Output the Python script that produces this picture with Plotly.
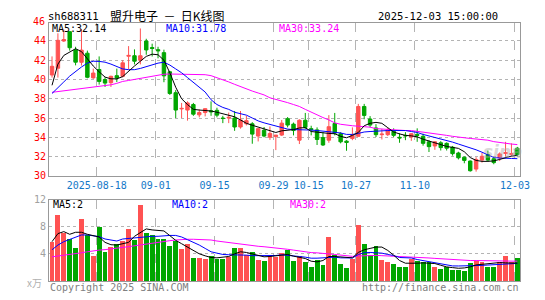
import numpy as np
import pandas as pd
import plotly.graph_objects as go

# ---------------- data ----------------
_days = pd.bdate_range("2025-08-06", "2025-12-03")
_days = [d for d in _days if not (pd.Timestamp("2025-10-01") <= d <= pd.Timestamp("2025-10-08"))]
dates = [d.strftime("%Y-%m-%d") for d in _days]

opens = [40.47, 41.17, 44.0, 44.97, 43.07, 41.79, 42.73, 40.17, 41.04, 40.0,
         39.67, 40.4, 40.33, 42.42, 42.47, 42.0, 44.0, 43.32, 43.1, 42.79,
         40.8, 38.63, 36.95, 36.83, 37.4, 36.33, 36.57, 36.75, 36.8, 36.0,
         36.0, 36.0, 35.07, 35.4, 35.4, 34.13, 34.73, 34.0, 34.07, 34.23,
         35.93, 35.37, 33.7, 35.77, 34.9, 34.77, 33.97, 33.7, 35.43, 34.37,
         33.6, 33.87, 34.1, 37.2, 35.9, 34.97, 34.27, 34.27, 34.63, 34.0,
         34.2, 34.03, 34.3, 34.1, 33.53, 33.1, 33.43, 33.37, 32.97, 32.37,
         31.93, 31.53, 30.7, 31.63, 32.2, 31.77, 31.87, 32.33, 32.23, 32.87]
highs = [42.4, 44.8, 45.2, 45.0, 43.4, 45.23, 43.0, 41.13, 42.4, 40.23,
         40.4, 41.13, 42.0, 43.47, 43.13, 45.3, 44.23, 43.72, 43.4, 43.1,
         40.9, 38.9, 37.57, 37.73, 37.57, 36.9, 37.0, 37.73, 37.07, 36.23,
         36.57, 36.73, 36.73, 36.23, 35.57, 34.9, 35.07, 35.13, 34.23, 35.8,
         36.1, 35.53, 35.87, 36.53, 35.2, 35.03, 34.53, 36.3, 36.53, 34.53,
         33.7, 35.03, 37.47, 37.47, 36.2, 35.37, 34.87, 34.97, 34.93, 34.43,
         34.53, 34.43, 34.93, 34.37, 33.7, 33.6, 33.6, 33.47, 33.1, 32.5,
         32.0, 31.6, 31.93, 32.37, 32.63, 31.93, 32.43, 33.53, 33.37, 33.0]
lows = [40.2, 40.2, 43.9, 43.0, 41.47, 41.45, 40.13, 40.07, 39.47, 39.23,
        39.23, 39.73, 40.23, 41.07, 41.57, 41.57, 42.57, 42.39, 42.2, 39.72,
        38.4, 36.0, 36.0, 35.73, 36.23, 36.07, 36.17, 36.23, 36.07, 35.47,
        35.47, 34.67, 34.9, 35.23, 33.33, 33.57, 34.0, 33.73, 32.67, 34.13,
        35.03, 34.2, 33.3, 34.87, 34.2, 33.2, 33.1, 33.43, 34.2, 33.37,
        32.6, 33.7, 34.03, 35.87, 35.03, 34.03, 33.77, 34.13, 34.03, 33.43,
        33.7, 33.63, 33.53, 33.13, 32.47, 32.7, 32.63, 32.63, 32.1, 31.7,
        31.3, 30.43, 30.43, 31.37, 31.47, 31.2, 31.53, 32.03, 32.03, 32.03]
closes = [41.37, 44.07, 44.15, 43.3, 41.8, 43.05, 40.23, 40.67, 39.8, 39.63,
          40.33, 40.17, 41.73, 42.5, 41.9, 42.47, 43.07, 43.22, 42.98, 40.38,
          38.55, 36.83, 37.0, 37.57, 36.4, 36.57, 36.97, 36.65, 36.3, 35.95,
          36.07, 35.07, 35.8, 35.73, 34.33, 34.9, 34.13, 34.4, 34.23, 35.47,
          35.27, 34.7, 35.77, 35.03, 34.8, 33.77, 33.2, 35.1, 34.43, 33.53,
          33.47, 34.2, 37.2, 36.27, 35.27, 34.27, 34.33, 34.77, 34.2, 33.93,
          34.15, 34.37, 34.2, 33.37, 33.03, 33.53, 32.93, 32.87, 32.3, 31.87,
          31.6, 30.53, 31.7, 32.03, 31.63, 31.37, 32.27, 32.4, 32.3, 32.2]

ma5 = [39.4, 41.6, 42.5, 42.85, 43.2, 42.9, 42.1, 41.4, 40.8, 40.25,
       40.07, 40.07, 40.3, 40.9, 41.4, 41.9, 42.4, 42.63, 42.57, 42.0,
       40.7, 39.2, 38.0, 37.4, 36.9, 36.83, 36.8, 36.73, 36.6, 36.45,
       36.3, 36.13, 35.8, 35.45, 35.25, 35.07, 34.9, 34.73, 34.5, 34.67,
       34.75, 34.8, 34.97, 35.0, 34.6, 34.5, 34.47, 34.4, 34.37, 34.1,
       33.95, 34.2, 34.5, 35.2, 35.45, 35.55, 35.45, 35.0, 34.55, 34.35,
       34.2, 34.15, 34.05, 33.8, 33.6, 33.45, 33.2, 33.05, 32.95, 32.85,
       32.5, 31.9, 31.6, 31.5, 31.5, 31.55, 31.7, 31.9, 32.05, 32.14]
ma10 = [38.55, 39.1, 39.75, 40.35, 40.85, 41.3, 41.7, 41.9, 41.88, 41.8,
        41.6, 41.35, 41.1, 41.02, 41.02, 41.15, 41.35, 41.55, 41.7, 41.8,
        41.5, 41.1, 40.7, 40.2, 39.7, 39.2, 38.7, 37.9, 37.4, 37.1,
        36.9, 36.6, 36.45, 36.3, 36.0, 35.7, 35.5, 35.35, 35.2, 35.0,
        34.85, 34.8, 34.8, 34.8, 34.75, 34.7, 34.65, 34.6, 34.5, 34.45,
        34.3, 34.3, 34.4, 34.55, 34.6, 34.65, 34.65, 34.7, 34.7, 34.7,
        34.7, 34.6, 34.5, 34.3, 34.15, 34.0, 33.85, 33.65, 33.5, 33.3,
        33.1, 32.95, 32.7, 32.45, 32.15, 31.9, 31.85, 31.8, 31.8, 31.78]
ma30 = [38.67, 38.75, 38.83, 38.9, 38.97, 39.05, 39.1, 39.2, 39.25, 39.35,
        39.45, 39.6, 39.8, 39.9, 40.0, 40.15, 40.25, 40.35, 40.45, 40.55,
        40.57, 40.57, 40.57, 40.57, 40.57, 40.55, 40.5, 40.4, 40.2, 40.0,
        39.75, 39.5, 39.25, 39.05, 38.8, 38.6, 38.4, 38.1, 37.95, 37.8,
        37.6, 37.4, 37.2, 36.9, 36.6, 36.3, 36.05, 35.8, 35.5, 35.35,
        35.25, 35.2, 35.15, 35.1, 35.05, 34.9, 34.85, 34.8, 34.78, 34.75,
        34.7, 34.7, 34.63, 34.55, 34.45, 34.4, 34.3, 34.2, 34.1, 34.0,
        33.95, 33.88, 33.82, 33.77, 33.7, 33.55, 33.45, 33.38, 33.3, 33.24]

volumes = [5.78, 9.7, 7.07, 6.21, 4.91, 9.13, 6.83, 3.62, 7.98, 4.34,
           5.06, 5.44, 5.92, 7.69, 6.0, 11.28, 7.07, 6.73, 6.25, 6.25,
           5.15, 5.87, 4.67, 5.44, 3.38, 3.38, 3.24, 3.72, 3.24, 3.24,
           3.48, 4.91, 4.91, 3.86, 4.34, 3.05, 2.9, 3.62, 3.53, 4.1,
           4.58, 2.9, 3.62, 2.76, 2.04, 3.05, 2.33, 6.49, 3.86, 2.52,
           1.95, 3.3, 8.26, 5.39, 3.86, 5.2, 3.05, 2.76, 2.52, 2.04,
           2.04, 3.24, 2.9, 2.76, 2.76, 2.04, 1.7, 2.04, 1.6, 1.6,
           1.47, 2.67, 2.9, 2.76, 2.04, 2.04, 2.76, 3.62, 2.76, 3.38]
vma5 = [5.8, 7.0, 7.3, 6.9, 7.2, 7.2, 6.9, 6.7, 6.5, 5.7,
        5.35, 5.3, 5.5, 5.7, 6.6, 7.2, 7.7, 7.55, 7.5, 7.4,
        6.7, 6.0, 5.5, 5.0, 4.5, 4.0, 3.7, 3.45, 3.4, 3.5,
        3.6, 4.0, 4.3, 4.2, 4.0, 3.8, 3.55, 3.6, 3.7, 3.9,
        3.9, 3.65, 3.5, 3.3, 2.9, 2.8, 3.0, 3.6, 3.6, 3.5,
        3.4, 3.4, 4.2, 4.6, 4.8, 5.0, 5.0, 4.5, 3.8, 3.0,
        2.6, 2.55, 2.6, 2.65, 2.6, 2.55, 2.3, 2.05, 1.95, 1.85,
        1.9, 2.05, 2.35, 2.45, 2.55, 2.6, 2.7, 2.65, 2.6, 2.6]
vma10 = [4.6, 5.3, 5.8, 6.1, 6.45, 6.8, 6.8, 6.7, 6.55, 6.2,
         6.0, 5.9, 6.2, 6.3, 6.4, 6.5, 6.6, 6.6, 6.6, 6.7,
         6.73, 6.73, 6.5, 6.1, 5.75, 5.3, 4.8, 4.3, 4.1, 3.9,
         3.86, 3.86, 3.86, 3.8, 3.72, 3.72, 3.72, 3.72, 3.75, 3.85,
         3.8, 3.72, 3.6, 3.5, 3.35, 3.35, 3.38, 3.5, 3.5, 3.4,
         3.38, 3.38, 3.9, 4.15, 4.2, 4.15, 4.1, 3.9, 3.75, 3.45,
         3.38, 3.38, 3.15, 3.0, 2.8, 2.65, 2.45, 2.3, 2.2, 2.19,
         2.19, 2.19, 2.22, 2.28, 2.33, 2.38, 2.43, 2.48, 2.53, 2.57]
vma30 = [3.55, 3.65, 3.75, 3.85, 4.0, 4.15, 4.3, 4.45, 4.55, 4.62,
         4.7, 4.8, 4.95, 5.06, 5.2, 5.32, 5.42, 5.55, 5.65, 5.82,
         5.95, 6.05, 6.16, 6.16, 6.16, 6.16, 6.16, 6.05, 5.9, 5.78,
         5.68, 5.58, 5.48, 5.35, 5.2, 5.12, 5.05, 4.98, 4.9, 4.8,
         4.67, 4.55, 4.4, 4.22, 4.18, 4.14, 4.1, 3.98, 3.9, 3.8,
         3.7, 3.62, 3.68, 3.74, 3.77, 3.76, 3.72, 3.69, 3.66, 3.62,
         3.58, 3.5, 3.46, 3.42, 3.38, 3.32, 3.25, 3.18, 3.1, 3.05,
         3.0, 3.0, 3.0, 3.0, 2.97, 2.95, 2.92, 2.9, 2.9, 2.9]

tick_dates = ["2025-08-18", "2025-09-01", "2025-09-15", "2025-09-29",
              "2025-10-15", "2025-10-27", "2025-11-10", "2025-12-03"]
tick_labels = ["2025-08-18", "09-01", "09-15", "09-29", "10-15", "10-27", "11-10", "12-03"]
price_ticks = [30, 32, 34, 36, 38, 40, 42, 44]
vol_ticks = [4, 8, 12]

name = "盟升电子"
code = "sh688311"

# ---------------- styling ----------------
W, H = 545, 300
RED = "#ff5252"
GREEN = "#00a600"
MONO = "DejaVu Sans Mono"
CJK = "Noto Sans CJK SC"
NB = "\u00a0"

def px(x):
    return x / W

def py(y):
    return 1 - y / H

x = list(range(len(dates)))
tickpos = [dates.index(d) - 0.4 for d in tick_dates]
bar_colors = [RED if c >= o else GREEN for o, c in zip(opens, closes)]

fig = go.Figure()
fig.add_trace(go.Candlestick(
    x=x, open=opens, high=highs, low=lows, close=closes,
    increasing=dict(line=dict(color=RED, width=1), fillcolor=RED),
    decreasing=dict(line=dict(color=GREEN, width=1), fillcolor=GREEN),
    whiskerwidth=0, xaxis="x", yaxis="y", hoverinfo="skip"))
for vals, col in [(ma30, "#ff00ff"), (ma10, "#0000ff"), (ma5, "#000000")]:
    fig.add_trace(go.Scatter(x=x, y=vals, mode="lines", line=dict(color=col, width=1),
                             xaxis="x", yaxis="y", hoverinfo="skip"))

fig.add_trace(go.Bar(x=x, y=volumes, marker=dict(color=bar_colors, line=dict(width=0)),
                     width=0.83, xaxis="x2", yaxis="y2", hoverinfo="skip"))
for vals, col in [(vma30, "#ff00ff"), (vma10, "#0000ff"), (vma5, "#000000")]:
    fig.add_trace(go.Scatter(x=x, y=vals, mode="lines", line=dict(color=col, width=1),
                             xaxis="x2", yaxis="y2", hoverinfo="skip"))

xdom = [px(50), px(530)]
common_x = dict(domain=xdom, range=[-0.5, len(dates) - 0.5], tickmode="array",
                tickvals=tickpos, showgrid=True, gridcolor="#b4b4b4", griddash="dash",
                gridwidth=1, zeroline=False, showline=True, mirror=True,
                linecolor="#999999", linewidth=1, ticks="", fixedrange=True)

fig.update_layout(
    width=W, height=H, margin=dict(l=0, r=0, t=0, b=0),
    paper_bgcolor="white", plot_bgcolor="white", showlegend=False,
    boxgap=0.17, bargap=0, hovermode=False,
    xaxis=dict(common_x, anchor="y", ticktext=tick_labels, showticklabels=True,
               tickfont=dict(family=MONO, size=10, color="#1478c8"),
               rangeslider=dict(visible=False)),
    xaxis2=dict(common_x, anchor="y2", ticktext=tick_labels, showticklabels=False),
    yaxis=dict(domain=[py(177), py(19)], range=[29.97, 45.83], tickmode="array",
               tickvals=price_ticks, showgrid=True, gridcolor="#b4b4b4", griddash="dot",
               zeroline=False, showline=True, mirror=True, linecolor="#999999",
               linewidth=1, ticks="", tickfont=dict(family=MONO, size=10, color="#ff0000"),
               fixedrange=True),
    yaxis2=dict(domain=[py(285.5), py(201.7)], range=[-0.04, 12], tickmode="array",
                tickvals=vol_ticks, showgrid=True, gridcolor="#b4b4b4", griddash="dot",
                zeroline=False, showline=True, mirror=True, linecolor="#999999",
                linewidth=1, ticks="", tickfont=dict(family=MONO, size=10, color="#a0a0a0"),
                fixedrange=True),
)

def note(text, x0, y0, xanchor="left", color="#000", size=10, family=MONO, **kw):
    fig.add_annotation(text=text, x=px(x0), y=py(y0), xref="paper", yref="paper",
                       xanchor=xanchor, yanchor="middle", showarrow=False,
                       font=dict(family=family, size=size, color=color), borderpad=0, **kw)

note(code, 48, 11, size=10.5)
note(f"{name}{NB}{NB}－{NB}{NB}日K线图", 171, 11, xanchor="center", size=12, family=CJK)
note(f"{dates[-1]} 15:00:00", 508, 11, xanchor="right", size=10.5)
note("46", 46.5, 17.5, xanchor="right", color="#ff0000")
note(f"MA5:{ma5[-1]:.2f}", 52, 24, color="#000000")
note(f"MA10:{ma10[-1]:.2f}", 168, 24, color="#0000ff")
note(f"MA30:{ma30[-1]:.2f}", 283, 24, color="#ff00ff")
note(f"MA5:{int(vma5[-1])}", 53, 206, color="#000000")
note(f"MA10:{int(vma10[-1])}", 174, 206, color="#0000ff")
note(f"MA30:{int(vma30[-1])}", 294, 206, color="#ff00ff")
note("x万", 44, 287, xanchor="right", color="#b0b0b0", family=CJK, size=10)
note("Copyright 2025 SINA.COM", 50, 292, color="#808080")
note("http://finance.sina.com.cn", 530, 292, xanchor="right", color="#808080")
note("<i><b>sina</b></i>", 512, 152, xanchor="center", color="rgba(170,170,170,0.45)",
     size=17, family="DejaVu Sans")

fig.write_html("out.html", config={"displayModeBar": False, "staticPlot": True})
